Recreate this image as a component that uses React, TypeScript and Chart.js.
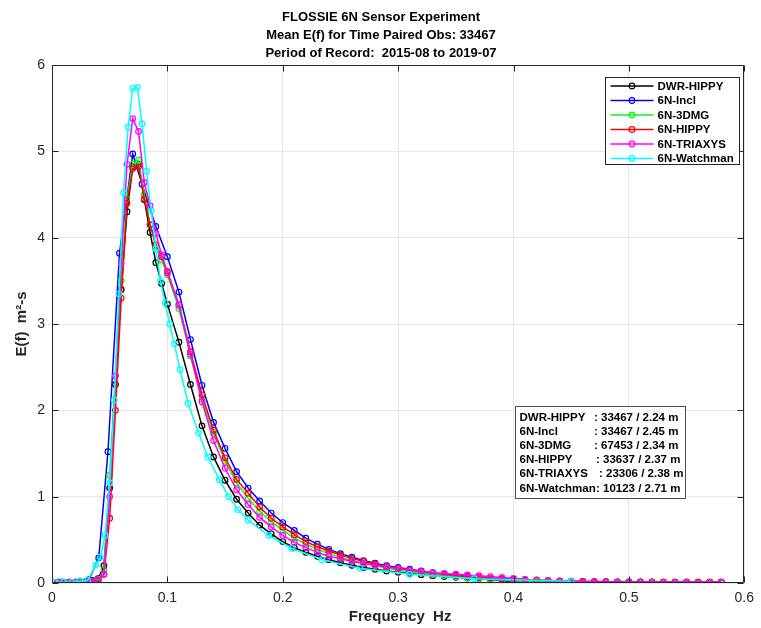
import React, { useEffect, useRef } from "react";
import { Chart, registerables } from "chart.js";

Chart.register(...registerables);

// ---------------- data ----------------
const titleLines = [
  "FLOSSIE 6N Sensor Experiment",
  "Mean E(f) for Time Paired Obs: 33467",
  "Period of Record:  2015-08 to 2019-07",
];
const xAxisTitle = "Frequency  Hz";
const yAxisTitle = "E(f)  m\u00B2-s";

const seriesNames = ["DWR-HIPPY", "6N-Incl", "6N-3DMG", "6N-HIPPY", "6N-TRIAXYS", "6N-Watchman"];
const seriesColors = ["#000000", "#0000ff", "#00ff00", "#ff0000", "#ff00ff", "#00ffff"];

const statLabels = ["DWR-HIPPY", "6N-Incl", "6N-3DMG", "6N-HIPPY", "6N-TRIAXYS", "6N-Watchman"];
const statValues = [": 33467 / 2.24 m", ": 33467 / 2.45 m", ": 67453 / 2.34 m", ": 33637 / 2.37 m", ": 23306 / 2.38 m", ": 10123 / 2.71 m"];

const xTickValues = [0, 0.1, 0.2, 0.3, 0.4, 0.5, 0.6];
const xTickLabels = ["0", "0.1", "0.2", "0.3", "0.4", "0.5", "0.6"];
const yTickValues = [0, 1, 2, 3, 4, 5, 6];
const yTickLabels = ["0", "1", "2", "3", "4", "5", "6"];

// common frequency grid (Hz)
const freqs = [
  0.005, 0.01, 0.015, 0.02, 0.025, 0.03, 0.035, 0.04, 0.045, 0.05,
  0.055, 0.06, 0.065, 0.07, 0.075, 0.08, 0.085, 0.09, 0.095, 0.1,
  0.11, 0.12, 0.13, 0.14, 0.15, 0.16, 0.17, 0.18, 0.19, 0.2,
  0.21, 0.22, 0.23, 0.24, 0.25, 0.26, 0.27, 0.28, 0.29, 0.3,
  0.31, 0.32, 0.33, 0.34, 0.35, 0.36, 0.37, 0.38, 0.39, 0.4,
  0.41, 0.42, 0.43, 0.44, 0.45, 0.46, 0.47, 0.48, 0.49, 0.5,
  0.51, 0.52, 0.53, 0.54, 0.55, 0.56, 0.57, 0.58,
];

const dwrHippy = [
  0.01, 0.01, 0.01, 0.01, 0.01, 0.02, 0.03, 0.05, 0.2, 1.1,
  2.3, 3.4, 4.3, 4.82, 4.85, 4.44, 4.06, 3.71, 3.47, 3.23,
  2.79, 2.3, 1.82, 1.46, 1.19, 0.97, 0.81, 0.67, 0.57, 0.48,
  0.41, 0.355, 0.31, 0.27, 0.235, 0.205, 0.18, 0.16, 0.14, 0.125,
  0.11, 0.097, 0.085, 0.075, 0.066, 0.058, 0.051, 0.045, 0.04, 0.035,
  0.031, 0.028, 0.025, 0.022, 0.02, 0.018, 0.016, 0.015, 0.014, 0.013,
  0.012, 0.012, 0.011, 0.011, 0.01, 0.01, 0.01, 0.01,
];

const inclFreqs = [
  0.008, 0.016, 0.024, 0.032, 0.0405, 0.0485, 0.0585, 0.07, 0.078, 0.09, 0.1,
  0.11, 0.12, 0.13, 0.14, 0.15, 0.16, 0.17, 0.18, 0.19, 0.2,
  0.21, 0.22, 0.23, 0.24, 0.25, 0.26, 0.27, 0.28, 0.29, 0.3,
  0.31, 0.32, 0.33, 0.34, 0.35, 0.36, 0.37, 0.38, 0.39, 0.4,
  0.41, 0.42, 0.43, 0.44, 0.45, 0.46, 0.47, 0.48, 0.49, 0.5,
  0.51, 0.52, 0.53, 0.54, 0.55, 0.56, 0.57, 0.58,
];
const incl = [
  0.01, 0.01, 0.02, 0.04, 0.29, 1.52, 3.82, 4.97, 4.62, 4.13, 3.78,
  3.37, 2.82, 2.29, 1.86, 1.56, 1.29, 1.1, 0.95, 0.81, 0.7,
  0.61, 0.52, 0.45, 0.39, 0.34, 0.3, 0.26, 0.23, 0.2, 0.18,
  0.16, 0.14, 0.12, 0.1, 0.085, 0.07, 0.055, 0.04, 0.025, 0.015,
  0.006, 0.005, 0.005, 0.005, 0.005, 0.005, 0.005, 0.005, 0.005, 0.005,
  0.005, 0.005, 0.005, 0.005, 0.005, 0.005, 0.005, 0.005,
];

const dmg3 = [
  0.01, 0.01, 0.01, 0.01, 0.01, 0.01, 0.02, 0.04, 0.15, 1.25,
  2.4, 3.5, 4.45, 4.85, 4.9, 4.5, 4.15, 3.9, 3.74, 3.57,
  3.18, 2.63, 2.13, 1.73, 1.41, 1.16, 0.98, 0.83, 0.71, 0.61,
  0.52, 0.45, 0.39, 0.34, 0.3, 0.26, 0.23, 0.2, 0.175, 0.15,
  0.13, 0.115, 0.1, 0.085, 0.072, 0.06, 0.05, 0.042, 0.035, 0.03,
  0.025, 0.02, 0.018, 0.015, 0.013, 0.012, 0.011, 0.01, 0.01, 0.01,
  0.01, 0.01, 0.01, 0.01, 0.01, 0.01, 0.01, 0.01,
];

const hippy6n = [
  0.01, 0.01, 0.01, 0.01, 0.01, 0.01, 0.01, 0.03, 0.1, 0.75,
  2.0, 3.3, 4.4, 4.8, 4.82, 4.45, 4.15, 3.92, 3.78, 3.61,
  3.22, 2.68, 2.18, 1.77, 1.45, 1.2, 1.04, 0.88, 0.75, 0.65,
  0.56, 0.48, 0.42, 0.37, 0.325, 0.285, 0.25, 0.22, 0.19, 0.17,
  0.15, 0.13, 0.115, 0.1, 0.09, 0.08, 0.07, 0.06, 0.05, 0.045,
  0.04, 0.035, 0.03, 0.025, 0.02, 0.018, 0.015, 0.012, 0.01, 0.01,
  0.01, 0.01, 0.01, 0.01, 0.01, 0.01, 0.01, 0.01,
];

const triaxys = [
  0.005, 0.005, 0.005, 0.005, 0.01, 0.01, 0.02, 0.03, 0.1, 1.0,
  2.4, 3.7, 4.85, 5.38, 5.23, 4.64, 4.37, 4.05, 3.8, 3.59,
  3.22, 2.65, 2.1, 1.65, 1.33, 1.08, 0.91, 0.76, 0.65, 0.55,
  0.47, 0.41, 0.355, 0.31, 0.28, 0.25, 0.225, 0.205, 0.185, 0.165,
  0.15, 0.135, 0.12, 0.11, 0.102, 0.094, 0.085, 0.075, 0.065, 0.054,
  0.042, 0.032, 0.026, 0.02, 0.016, 0.013, 0.012, 0.01, 0.01, 0.01,
  0.01, 0.01, 0.01, 0.01, 0.01, 0.01, 0.01, 0.01,
];

const watchmanFreqs = [
  0.003, 0.01, 0.017, 0.024, 0.031, 0.038, 0.042, 0.046, 0.05, 0.054,
  0.058, 0.062, 0.066, 0.07, 0.074, 0.078, 0.082, 0.086, 0.09, 0.094,
  0.098, 0.102, 0.106, 0.111, 0.118, 0.127, 0.135, 0.145, 0.153, 0.161,
  0.17, 0.188, 0.208, 0.234, 0.267, 0.31, 0.366, 0.45,
];
const watchman = [
  0.01, 0.01, 0.01, 0.02, 0.03, 0.21, 0.3, 0.55, 1.16, 2.12,
  3.35, 4.52, 5.28, 5.73, 5.74, 5.32, 4.77, 4.31, 3.87, 3.5,
  3.25, 3.0, 2.77, 2.47, 2.08, 1.74, 1.46, 1.2, 1.0, 0.85,
  0.73, 0.55, 0.4, 0.27, 0.17, 0.1, 0.05, 0.02,
];

const seriesFreqs = [freqs, inclFreqs, freqs, freqs, freqs, watchmanFreqs];
const seriesValues = [dwrHippy, incl, dmg3, hippy6n, triaxys, watchman];

// ---------------- styles ----------------
const FONT = "'Liberation Sans', Arial, Helvetica, sans-serif";
const AXIS_COLOR = "#262626";
const GRID_COLOR = "#e6e6e6";
const STAT_COLON_OFFSETS = [78.5, 78.5, 78.5, 80.5, 83.5, 80.5];

const overlayPlugin = {
  id: "matlabOverlay",
  afterDraw(chart: any) {
    const { ctx, chartArea: a, scales } = chart;
    ctx.save();

    // Title
    ctx.fillStyle = "#000";
    ctx.font = `bold 13px ${FONT}`;
    ctx.textAlign = "center";
    ctx.textBaseline = "alphabetic";
    titleLines.forEach((t, i) => ctx.fillText(t, 381, 21 + i * 18));

    // axis box + inward ticks
    const L = Math.round(a.left) + 0.5;
    const R = Math.round(a.right) - 0.5;
    const T = Math.round(a.top) + 0.5;
    const B = Math.round(a.bottom) - 0.5;
    ctx.strokeStyle = AXIS_COLOR;
    ctx.lineWidth = 1;
    ctx.beginPath();
    ctx.rect(L, T, R - L, B - T);
    const tl = 6;
    xTickValues.forEach((v) => {
      const px = Math.round(scales.x.getPixelForValue(v)) + 0.5;
      ctx.moveTo(px, B);
      ctx.lineTo(px, B - tl);
      ctx.moveTo(px, T);
      ctx.lineTo(px, T + tl);
    });
    yTickValues.forEach((v) => {
      const py = Math.round(scales.y.getPixelForValue(v)) + 0.5;
      ctx.moveTo(L, py);
      ctx.lineTo(L + tl, py);
      ctx.moveTo(R, py);
      ctx.lineTo(R - tl, py);
    });
    ctx.stroke();

    // axis titles
    ctx.fillStyle = AXIS_COLOR;
    ctx.font = `bold 15px ${FONT}`;
    ctx.textAlign = "center";
    ctx.textBaseline = "middle";
    ctx.fillText(xAxisTitle, (a.left + a.right) / 2 + 2, 617);
    ctx.save();
    ctx.translate(22, (a.top + a.bottom) / 2);
    ctx.rotate(-Math.PI / 2);
    ctx.fillText(yAxisTitle, 0, 0);
    ctx.restore();

    // Legend
    const lgL = 605.5, lgT = 77.5, lgW = 134, lgH = 87;
    ctx.fillStyle = "#fff";
    ctx.fillRect(lgL, lgT, lgW, lgH);
    ctx.strokeStyle = AXIS_COLOR;
    ctx.lineWidth = 1;
    ctx.strokeRect(lgL, lgT, lgW, lgH);
    ctx.font = `bold 11.5px ${FONT}`;
    ctx.textAlign = "left";
    ctx.textBaseline = "middle";
    seriesNames.forEach((n, i) => {
      const y = lgT + 8.5 + i * 14.5;
      ctx.strokeStyle = seriesColors[i];
      ctx.lineWidth = 1.5;
      ctx.beginPath();
      ctx.moveTo(lgL + 5, y);
      ctx.lineTo(lgL + 48, y);
      ctx.stroke();
      ctx.lineWidth = 1.2;
      ctx.beginPath();
      ctx.arc(lgL + 26.5, y, 2.8, 0, Math.PI * 2);
      ctx.stroke();
      ctx.fillStyle = "#000";
      ctx.fillText(n, lgL + 52, y + 0.5);
    });

    // Stats box
    const sbL = 515.5, sbT = 406.5, sbW = 170, sbH = 92;
    ctx.fillStyle = "#fff";
    ctx.fillRect(sbL, sbT, sbW, sbH);
    ctx.strokeStyle = "#4d4d4d";
    ctx.lineWidth = 1;
    ctx.strokeRect(sbL, sbT, sbW, sbH);
    ctx.fillStyle = "#000";
    ctx.font = `bold 11.5px ${FONT}`;
    statLabels.forEach((s, i) => {
      const y = sbT + 11 + i * 14.2;
      ctx.fillText(s, sbL + 4, y);
      ctx.fillText(statValues[i], sbL + STAT_COLON_OFFSETS[i], y);
    });

    ctx.restore();
  },
};

export default function App() {
  const canvasRef = useRef<HTMLCanvasElement | null>(null);

  useEffect(() => {
    document.body.style.margin = "0";
    const canvas = canvasRef.current;
    if (!canvas) return;

    const datasets = seriesNames.map((name, i) => ({
      label: name,
      data: seriesFreqs[i].map((f, j) => ({ x: f, y: seriesValues[i][j] })),
      borderColor: seriesColors[i],
      backgroundColor: seriesColors[i],
      borderWidth: 1.5,
      pointRadius: 2.8,
      pointBorderWidth: 1.2,
      pointBorderColor: seriesColors[i],
      pointBackgroundColor: "rgba(0,0,0,0)",
      pointStyle: "circle",
      tension: 0,
      fill: false,
      order: seriesNames.length - 1 - i,
    }));

    const chart = new Chart(canvas, {
      type: "line",
      data: { datasets },
      options: {
        animation: false,
        responsive: false,
        maintainAspectRatio: false,
        devicePixelRatio: 1,
        layout: { padding: { left: 0, right: 9, top: 65, bottom: 0 } },
        plugins: {
          legend: { display: false },
          title: { display: false },
          tooltip: { enabled: false },
        },
        scales: {
          x: {
            type: "linear",
            min: 0,
            max: 0.6,
            afterBuildTicks: (s: any) => {
              s.ticks = xTickValues.map((v) => ({ value: v }));
            },
            afterFit: (s: any) => {
              s.height = 45;
            },
            ticks: {
              callback: (_v: any, i: number) => xTickLabels[i],
              font: { family: FONT, size: 14 },
              color: AXIS_COLOR,
              padding: 7,
              maxRotation: 0,
              autoSkip: false,
            },
            grid: { color: GRID_COLOR, drawTicks: false, lineWidth: 1 },
            border: { display: false },
          },
          y: {
            type: "linear",
            min: 0,
            max: 6,
            afterBuildTicks: (s: any) => {
              s.ticks = yTickValues.map((v) => ({ value: v }));
            },
            afterFit: (s: any) => {
              s.width = 52;
            },
            ticks: {
              callback: (_v: any, i: number) => yTickLabels[i],
              font: { family: FONT, size: 14 },
              color: AXIS_COLOR,
              padding: 7,
              autoSkip: false,
            },
            grid: { color: GRID_COLOR, drawTicks: false, lineWidth: 1 },
            border: { display: false },
          },
        },
      },
      plugins: [overlayPlugin],
    } as any);

    return () => chart.destroy();
  }, []);

  return (
    <div style={{ width: 761, height: 628, background: "#fff" }}>
      <canvas ref={canvasRef} width={761} height={628} style={{ display: "block" }} />
    </div>
  );
}
